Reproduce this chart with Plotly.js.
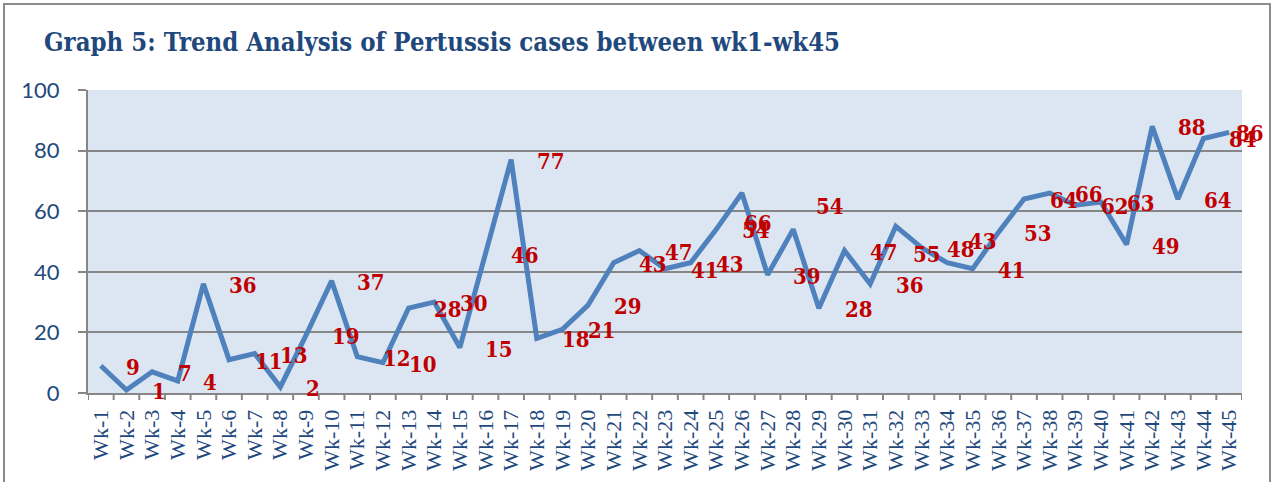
<!DOCTYPE html>
<html>
<head>
<meta charset="utf-8">
<script src="https://cdn.plot.ly/plotly-3.0.1.min.js"></script>
<style>
  html, body { margin: 0; padding: 0; background: #ffffff; overflow: hidden; }
  #wrap { position: relative; width: 1275px; height: 482px; overflow: hidden; }
  #chart { position: absolute; left: 0; top: 0; width: 1275px; height: 482px; }
  #frame { position: absolute; left: 3px; top: 3px; width: 1264px; height: 600px;
           border: 2px solid #8c8c8c; pointer-events: none; box-sizing: content-box; }
</style>
</head>
<body>
<div id="wrap">
  <div id="chart"></div>
  <div id="frame"></div>
</div>
<script>
// ---- data ----
const weeks = ['Wk-1','Wk-2','Wk-3','Wk-4','Wk-5','Wk-6','Wk-7','Wk-8','Wk-9','Wk-10',
  'Wk-11','Wk-12','Wk-13','Wk-14','Wk-15','Wk-16','Wk-17','Wk-18','Wk-19','Wk-20',
  'Wk-21','Wk-22','Wk-23','Wk-24','Wk-25','Wk-26','Wk-27','Wk-28','Wk-29','Wk-30',
  'Wk-31','Wk-32','Wk-33','Wk-34','Wk-35','Wk-36','Wk-37','Wk-38','Wk-39','Wk-40',
  'Wk-41','Wk-42','Wk-43','Wk-44','Wk-45'];
const cases = [9,1,7,4,36,11,13,2,19,37,
  12,10,28,30,15,46,77,18,21,29,
  43,47,41,43,54,66,39,54,28,47,
  36,55,48,43,41,53,64,66,62,63,
  49,88,64,84,86];
const yTicks = [0,20,40,60,80,100];
const chartTitle = 'Graph 5: Trend Analysis of Pertussis cases between wk1-wk45';

// ---- label placement tweaks (pixels), keyed by week number ----
const labelNudge = { 26: [-24, -29], 28: [-3, 24], 32: [-8, -27], 34: [-4, 23], 45: [-19, 0] };

const W = 1275, H = 482;
const margin = { l: 88, r: 33, t: 90, b: 89 };
const catW = (W - margin.l - margin.r) / weeks.length;

const annotations = cases.map((v, i) => {
  const n = labelNudge[i + 1] || [0, 0];
  return {
    x: i, y: v, xref: 'x', yref: 'y',
    text: String(v), showarrow: false,
    xanchor: 'left', yanchor: 'middle',
    xshift: catW + n[0] - 2, yshift: n[1] - 1,
    font: { family: 'DejaVu Serif Condensed, DejaVu Serif, serif', size: 22, color: '#C00000', weight: 'bold' }
  };
});

const trace = {
  type: 'scatter', mode: 'lines',
  x: weeks.map((_, i) => i), y: cases,
  line: { color: '#4F81BD', width: 5 },
  hoverinfo: 'skip', cliponaxis: false
};

const layout = {
  width: W, height: H,
  margin: margin,
  paper_bgcolor: 'rgba(0,0,0,0)',
  plot_bgcolor: '#DCE6F2',
  showlegend: false,
  title: {
    text: chartTitle,
    xref: 'container', yref: 'container',
    x: 44 / W, xanchor: 'left',
    y: 1 - 42 / H, yanchor: 'middle',
    font: { family: 'DejaVu Serif Condensed, DejaVu Serif, serif', size: 25.5, color: '#1F497D', weight: 'bold' }
  },
  xaxis: {
    type: 'linear',
    range: [-0.5, weeks.length - 0.5],
    tickmode: 'array',
    tickvals: weeks.map((_, i) => i),
    ticktext: weeks,
    tickangle: -90,
    ticks: '',
    showgrid: false, zeroline: false,
    showline: true, linecolor: '#868686', linewidth: 2,
    tickfont: { family: 'Liberation Serif, Times New Roman, serif', size: 22, color: '#1F497D' },
    ticklabelstandoff: 6,
    fixedrange: true
  },
  yaxis: {
    range: [0, 100],
    tickmode: 'array', tickvals: yTicks,
    ticks: 'outside', ticklen: 8, tickwidth: 2, tickcolor: '#868686',
    showgrid: true, gridcolor: '#868686', gridwidth: 2,
    zeroline: false,
    showline: true, linecolor: '#868686', linewidth: 2,
    tickfont: { family: 'Lato, Open Sans, sans-serif', size: 22, color: '#1F497D' },
    ticklabelstandoff: 14,
    fixedrange: true
  },
  annotations: annotations
};

// boundary tick marks below the x axis (7px long)
layout.shapes = weeks.map((_, i) => i - 0.5).concat([weeks.length - 0.5]).map(xb => ({
  type: 'line', xref: 'x', yref: 'paper',
  x0: xb, x1: xb, ysizemode: 'pixel', yanchor: 0, y0: 0, y1: -7,
  line: { color: '#868686', width: 2 }
}));

Plotly.newPlot('chart', [trace], layout, { staticPlot: true, displayModeBar: false });
</script>
</body>
</html>
